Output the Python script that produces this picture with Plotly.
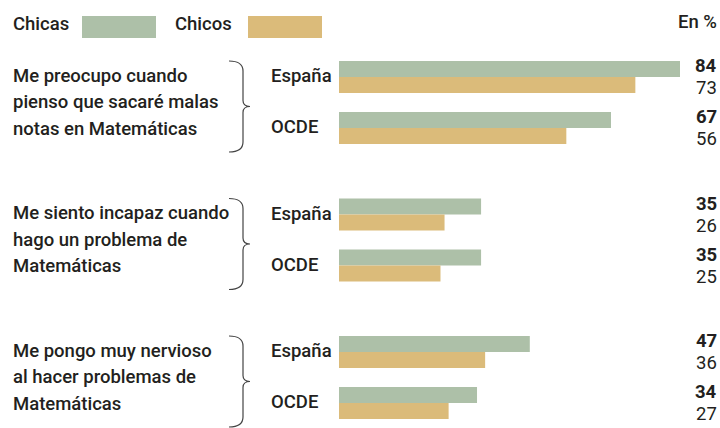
import plotly.graph_objects as go

# ---- data ----
items = [
    ["Me preocupo cuando", "pienso que sacaré malas", "notas en Matemáticas"],
    ["Me siento incapaz cuando", "hago un problema de", "Matemáticas"],
    ["Me pongo muy nervioso", "al hacer problemas de", "Matemáticas"],
]
regions = ["España", "OCDE"]
chicas = [[84, 67], [35, 35], [47, 34]]
chicos = [[73, 56], [26, 25], [36, 27]]
series_names = ["Chicas", "Chicos"]
unit_label = "En %"

# ---- style / layout constants ----
W, H = 720, 428
GREEN = "#adc0a8"
TAN = "#dbbb7a"
TXT = "#231f20"
FONT = "Roboto"
FS = 18.5
BAR_H = 16
FIRST = 77          # pixel y of first pair boundary
GROUP_STEP = 137.5
COUNTRY_STEP = 51
X0_PX = 339
PX_PER_UNIT = (680 - X0_PX) / 84.0

def px(x):
    return x / W

rows_y, xa, xb = [], [], []
for g in range(len(items)):
    for c in range(len(regions)):
        rows_y.append(FIRST + g * GROUP_STEP + c * COUNTRY_STEP)
        xa.append(chicas[g][c])
        xb.append(chicos[g][c])

fig = go.Figure()
fig.add_trace(go.Bar(x=xa, y=rows_y, orientation="h", width=BAR_H, offset=-BAR_H,
                     marker=dict(color=GREEN, line=dict(width=0)), name=series_names[0],
                     hoverinfo="x"))
fig.add_trace(go.Bar(x=xb, y=rows_y, orientation="h", width=BAR_H, offset=0,
                     marker=dict(color=TAN, line=dict(width=0)), name=series_names[1],
                     hoverinfo="x"))

ann = []
shapes = []

def text(x, y, s, anchor="left", weight=500, size=FS):
    ann.append(dict(x=px(x), y=y, xref="paper", yref="y", text=s, showarrow=False,
                    xanchor=anchor, yanchor="middle",
                    font=dict(family=FONT, size=size, color=TXT, weight=weight)))

# legend
text(11, 24, series_names[0])
text(173, 24, series_names[1])
shapes.append(dict(type="rect", xref="paper", yref="y", x0=px(82), x1=px(156), y0=16, y1=38,
                   fillcolor=GREEN, line=dict(width=0)))
shapes.append(dict(type="rect", xref="paper", yref="y", x0=px(248), x1=px(322), y0=16, y1=38,
                   fillcolor=TAN, line=dict(width=0)))
text(719, 22, unit_label, anchor="right")

LINE_H = 26.5
for g, lines in enumerate(items):
    top = FIRST - BAR_H + g * GROUP_STEP
    center = top + 41
    for i, ln in enumerate(lines):
        text(11, center + (i - 1) * LINE_H, ln)
    # brace
    t, b = top, top + 91
    m = (t + b) / 2
    xa0, xa1, xt = px(229), px(243), px(250)
    path = (f"M {xa0},{t} Q {xa1},{t} {xa1},{t+10} L {xa1},{m-6} "
            f"Q {xa1},{m} {xt},{m} Q {xa1},{m} {xa1},{m+6} "
            f"L {xa1},{b-10} Q {xa1},{b} {xa0},{b}")
    shapes.append(dict(type="path", xref="paper", yref="y", path=path,
                       line=dict(color="#444444", width=1.2)))
    for c, r in enumerate(regions):
        yb = FIRST + g * GROUP_STEP + c * COUNTRY_STEP
        text(269, yb - 1, r)
        text(719, yb - BAR_H / 2 - 3, str(chicas[g][c]), anchor="right", weight=700)
        text(719, yb + BAR_H / 2 + 3, str(chicos[g][c]), anchor="right", weight=400)

fig.update_layout(
    width=W, height=H, margin=dict(l=0, r=0, t=0, b=0),
    paper_bgcolor="white", plot_bgcolor="white",
    barmode="overlay", showlegend=False,
    xaxis=dict(domain=[X0_PX / W, 1], range=[0, (W - X0_PX) / PX_PER_UNIT],
               visible=False, fixedrange=True),
    yaxis=dict(range=[H, 0], visible=False, fixedrange=True),
    annotations=ann, shapes=shapes,
)
fig.write_html("out.html", config={"displayModeBar": False},
               post_script="document.body.style.margin='0';document.body.style.padding='0';")
